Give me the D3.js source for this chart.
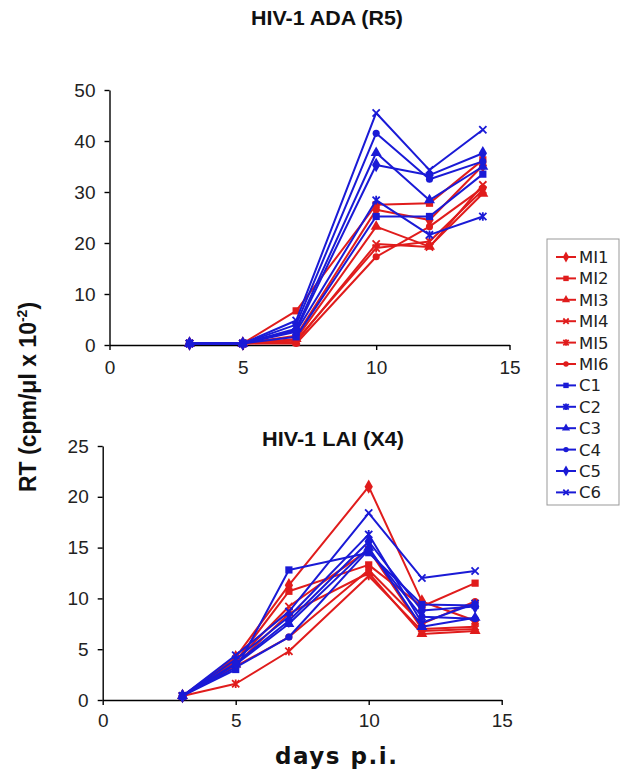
<!DOCTYPE html>
<html><head><meta charset="utf-8">
<script src="https://cdn.jsdelivr.net/npm/d3@7"></script>
<style>body{margin:0;background:#fff;} svg{display:block;}</style>
</head><body><svg id="c" width="622" height="771"></svg>
<script>
// ---------------- DATA ----------------
const days = [3, 5, 7, 10, 12, 14];
const seriesNames = ["MI1","MI2","MI3","MI4","MI5","MI6","C1","C2","C3","C4","C5","C6"];
// HIV-1 ADA (R5), one row per series (same order as seriesNames)
const adaValues = [
  [0.3, 0.3, 1.8, 26.5, 24.5, 35.2],
  [0.3, 0.3, 6.7, 27.5, 27.8, 36.3],
  [0.3, 0.3, 1.2, 23.2, 19.3, 29.7],
  [0.3, 0.3, 0.6, 19.8, 19.2, 31.4],
  [0.3, 0.3, 0.9, 19.0, 20.3, 30.4],
  [0.3, 0.3, 0.3, 17.3, 23.2, 30.8],
  [0.3, 0.3, 1.6, 25.2, 25.2, 33.5],
  [0.3, 0.3, 2.6, 28.4, 21.6, 25.2],
  [0.3, 0.3, 3.2, 37.7, 28.4, 35.0],
  [0.3, 0.3, 4.0, 41.5, 32.5, 36.0],
  [0.3, 0.3, 2.9, 35.3, 33.3, 37.6],
  [0.3, 0.3, 4.8, 45.5, 34.3, 42.2]
];
// HIV-1 LAI (X4)
const laiValues = [
  [0.4, 4.2, 11.3, 21.0, 9.7, 7.8],
  [0.4, 3.8, 10.7, 13.3, 9.2, 11.5],
  [0.4, 3.5, 8.5, 12.5, 6.5, 6.8],
  [0.4, 3.8, 9.2, 14.8, 7.0, 7.2],
  [0.4, 1.6, 4.8, 12.2, 6.8, 7.0],
  [0.4, 3.3, 6.2, 12.8, 7.5, 9.7],
  [0.4, 3.0, 12.8, 14.5, 9.4, 9.3],
  [0.4, 4.0, 8.2, 16.3, 7.6, 9.5],
  [0.4, 3.5, 7.5, 15.0, 7.2, 8.1],
  [0.4, 3.2, 6.2, 14.8, 8.2, 8.0],
  [0.4, 3.6, 7.8, 15.6, 8.8, 9.2],
  [0.4, 4.4, 8.7, 18.4, 12.0, 12.7]
];
const xTicks = [0, 5, 10, 15];
const adaTicks = [0, 10, 20, 30, 40, 50];
const laiTicks = [0, 5, 10, 15, 20, 25];
const titles = ["HIV-1 ADA (R5)", "HIV-1 LAI (X4)"];

// ---------------- STYLE ----------------
const RED = "#e01c1c", BLUE = "#1a1ad6";
const colorOf = n => n.startsWith("MI") ? RED : BLUE;
const markerOf = {MI1:"diamond",MI2:"square",MI3:"triangle",MI4:"x",MI5:"star",MI6:"circle",
                  C1:"square",C2:"star",C3:"triangle",C4:"circle",C5:"diamond",C6:"x"};

const svg = d3.select("#c");

function marker(g, type, cx, cy, color, k) {
  k = k || 1;
  const filled = {diamond:d3.symbolDiamond, square:d3.symbolSquare, triangle:d3.symbolTriangle, circle:d3.symbolCircle};
  const sizes = {diamond:60, square:52, triangle:52, circle:40};
  if (filled[type]) {
    g.append("path")
      .attr("d", d3.symbol().type(filled[type]).size(sizes[type]*k*k)())
      .attr("transform", `translate(${cx},${cy})`)
      .attr("fill", color);
  } else {
    const r = 3.6*k;
    let d = `M${-r},${-r}L${r},${r}M${-r},${r}L${r},${-r}`;
    if (type === "star") d = `M${-r},${-r}L${r},${r}M${-r},${r}L${r},${-r}M0,${-r*1.2}L0,${r*1.2}`;
    g.append("path").attr("d", d)
      .attr("transform", `translate(${cx},${cy})`)
      .attr("fill", "none").attr("stroke", color).attr("stroke-width", 1.8);
  }
}

function panel(values, ticks, yMax, xr, yr, xPad, title, titlePos, titleLen) {
  const x = d3.scaleLinear().domain([0, 15]).range(xr);
  const y = d3.scaleLinear().domain([0, yMax]).range(yr);
  const g = svg.append("g");

  const ya = g.append("g").attr("transform", `translate(${xr[0]},0)`)
    .call(d3.axisLeft(y).tickValues(ticks).tickSize(5).tickSizeOuter(0).tickPadding(9));
  const xa = g.append("g").attr("transform", `translate(0,${yr[0]})`)
    .call(d3.axisBottom(x).tickValues(xTicks).tickSize(5).tickSizeOuter(0).tickPadding(xPad));
  [ya, xa].forEach(a => {
    a.selectAll("path,line").attr("stroke", "#000").attr("stroke-width", 1.4);
    a.selectAll("text").attr("font-family", "Arial, 'Liberation Sans', sans-serif")
      .attr("font-size", 19).attr("fill", "#222");
  });

  const line = d3.line().x((d, i) => x(days[i])).y(d => y(d));
  seriesNames.forEach((n, si) => {
    const c = colorOf(n);
    const sg = g.append("g");
    sg.append("path").attr("d", line(values[si]))
      .attr("fill", "none").attr("stroke", c).attr("stroke-width", 2).attr("stroke-linejoin", "round");
    values[si].forEach((v, i) => marker(sg, markerOf[n], x(days[i]), y(v), c));
  });

  g.append("text").attr("x", titlePos[0]).attr("y", titlePos[1])
    .attr("text-anchor", "middle").attr("font-family", "Arial, 'Liberation Sans', sans-serif")
    .attr("font-weight", "bold").attr("font-size", 20).attr("fill", "#111")
    .attr("textLength", titleLen).attr("lengthAdjust", "spacingAndGlyphs")
    .text(title);
}

panel(adaValues, adaTicks, 50, [109.5, 509.5], [345, 90], 11, titles[0], [327, 25], 152);
panel(laiValues, laiTicks, 25, [102.7, 501.7], [700, 446], 9, titles[1], [333, 446], 142);

// Y axis label
const yl = svg.append("text")
  .attr("transform", "translate(36,397) rotate(-90)")
  .attr("text-anchor", "middle")
  .attr("font-family", "Arial, 'Liberation Sans', sans-serif")
  .attr("font-weight", "bold").attr("font-size", 23).attr("fill", "#111");
yl.append("tspan").text("RT (cpm/\u03bcl x 10");
yl.append("tspan").attr("font-size", 14).attr("dy", -9).text("-2");
yl.append("tspan").attr("dy", 9).text(")");

// X axis label
svg.append("text").attr("x", 336).attr("y", 764)
  .attr("text-anchor", "middle")
  .attr("font-family", "Verdana, 'DejaVu Sans', sans-serif")
  .attr("font-weight", "bold").attr("font-size", 23).attr("fill", "#111")
  .attr("textLength", 122).attr("lengthAdjust", "spacing")
  .text("days p.i.");

// Legend
const lg = svg.append("g");
lg.append("rect").attr("x", 547).attr("y", 239).attr("width", 72).attr("height", 266)
  .attr("fill", "#fff").attr("stroke", "#999").attr("stroke-width", 1);
seriesNames.forEach((n, i) => {
  const cy = 257 + i * 21.4;
  const c = colorOf(n);
  lg.append("line").attr("x1", 556).attr("x2", 576).attr("y1", cy).attr("y2", cy)
    .attr("stroke", c).attr("stroke-width", 2);
  marker(lg, markerOf[n], 566, cy, c, 0.75);
  lg.append("text").attr("x", 579).attr("y", cy).attr("dy", "0.36em")
    .attr("font-family", "Verdana, 'DejaVu Sans', sans-serif")
    .attr("font-size", 16.5).attr("fill", "#222").text(n);
});
</script>
</body></html>
